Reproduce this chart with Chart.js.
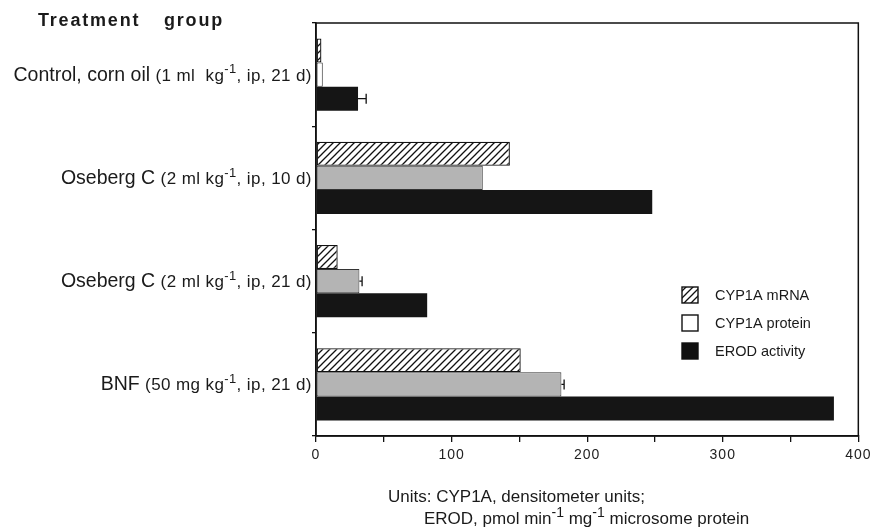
<!DOCTYPE html>
<html><head><meta charset="utf-8">
<script src="https://cdn.jsdelivr.net/npm/chart.js@4.4.1/dist/chart.umd.min.js"></script>
<style>html,body{margin:0;padding:0;background:#fff}canvas{display:block}</style>
</head><body>
<canvas id="c" width="875" height="532"></canvas>
<script>
// ---- data ----
const groupNames = ['Control, corn oil', 'Oseberg C', 'Oseberg C', 'BNF'];
const groupDoses = ['(1 ml  kg^-1, ip, 21 d)', '(2 ml kg^-1, ip, 10 d)', '(2 ml kg^-1, ip, 21 d)', '(50 mg kg^-1, ip, 21 d)'];
const seriesNames = ['CYP1A mRNA', 'CYP1A protein', 'EROD activity'];
const mrnaValues = [4, 143, 16, 151];
const proteinValues = [5, 123, 32, 181];
const erodValues = [31, 248, 82, 382];
const mrnaErrors = [0, 0, 0, 0];
const proteinErrors = [0, 0, 2, 2];
const erodErrors = [6, 0, 0, 0];
const xTickValues = [0, 100, 200, 300, 400];
const titleWords = ['Treatment', 'group'];
const unitsLines = ['Units: CYP1A, densitometer units;', 'EROD, pmol min^-1 mg^-1 microsome protein'];

// ---- hatch pattern ----
function makeHatch() {
  const s = 7;
  const pc = document.createElement('canvas');
  pc.width = s; pc.height = s;
  const p = pc.getContext('2d');
  p.fillStyle = '#fff'; p.fillRect(0, 0, s, s);
  p.strokeStyle = '#111'; p.lineWidth = 1.3;
  p.beginPath();
  p.moveTo(-1, s + 1); p.lineTo(s + 1, -1);
  p.moveTo(-1, 1); p.lineTo(1, -1);
  p.moveTo(s - 1, s + 1); p.lineTo(s + 1, s - 1);
  p.stroke();
  return document.getElementById('c').getContext('2d').createPattern(pc, 'repeat');
}
const hatch = makeHatch();
const FONT = '"Liberation Sans", Arial, Helvetica, sans-serif';

// draw text with ^-1 superscripts; returns width
function drawRich(ctx, text, x, y, size, opts) {
  opts = opts || {};
  const ls = opts.ls || 0, supScale = opts.sup || 0.72;
  const parts = text.split(/(\^-1)/);
  ctx.save();
  ctx.translate(x, y);
  ctx.letterSpacing = ls + 'px';
  let cx = 0;
  for (const part of parts) {
    if (part === '^-1') {
      ctx.font = Math.round(size * supScale) + 'px ' + FONT;
      if (!opts.measure) ctx.fillText('-1', cx, -size * 0.42);
      cx += ctx.measureText('-1').width;
    } else {
      ctx.font = size + 'px ' + FONT;
      if (!opts.measure) ctx.fillText(part, cx, 0);
      cx += ctx.measureText(part).width;
    }
  }
  ctx.restore();
  return cx;
}

const errorsBySeries = [mrnaErrors, proteinErrors, erodErrors];

const decor = {
  id: 'decor',
  beforeDraw(chart) { chart.ctx.letterSpacing = '1px'; },
  afterDatasetsDraw(chart) {
    const ctx = chart.ctx;
    const xs = chart.scales.x;
    ctx.save();
    ctx.strokeStyle = '#111'; ctx.lineWidth = 1.3;
    chart.data.datasets.forEach((ds, di) => {
      const meta = chart.getDatasetMeta(di);
      meta.data.forEach((bar, i) => {
        const e = errorsBySeries[di][i];
        if (!e) return;
        const v = ds.data[i];
        const x0 = xs.getPixelForValue(v), x1 = xs.getPixelForValue(v + e);
        const h = 5;
        ctx.beginPath();
        ctx.moveTo(x0, bar.y); ctx.lineTo(x1, bar.y);
        ctx.moveTo(x1, bar.y - h); ctx.lineTo(x1, bar.y + h);
        ctx.stroke();
      });
    });
    ctx.restore();
  },
  afterDraw(chart) {
    const ctx = chart.ctx;
    const a = chart.chartArea;
    const ys = chart.scales.y;
    ctx.save();
    ctx.letterSpacing = '0px';
    // frame
    ctx.strokeStyle = '#111'; ctx.lineWidth = 1.5;
    ctx.strokeRect(a.left, a.top, a.right - a.left, a.bottom - a.top);
    ctx.fillStyle = '#1a1a1a';
    ctx.textBaseline = 'alphabetic';
    // title
    ctx.save();
    ctx.font = 'bold 18px ' + FONT;
    ctx.letterSpacing = '1.8px';
    ctx.fillText(titleWords[0], 38, 26);
    ctx.fillText(titleWords[1], 164, 26);
    ctx.restore();
    // category labels
    groupNames.forEach((name, i) => {
      const y = ys.getPixelForValue(i) + 6;
      const right = a.left - 5;
      const wDose = drawRich(ctx, groupDoses[i], 0, 0, 17, { measure: true, ls: 0.4 });
      const wName = drawRich(ctx, name + ' ', 0, 0, 19.5, { measure: true });
      const x0 = right - wDose - wName;
      drawRich(ctx, name + ' ', x0, y, 19.5);
      drawRich(ctx, groupDoses[i], x0 + wName, y, 17, { ls: 0.4, sup: 0.75 });
    });
    // legend
    const lx = 682, ly = [295, 323, 351];
    chart.data.datasets.forEach((ds, i) => {
      const cy = ly[i];
      ctx.fillStyle = i === 0 ? hatch : (i === 1 ? '#fff' : '#111');
      ctx.fillRect(lx, cy - 8, 16, 16);
      ctx.strokeStyle = '#111'; ctx.lineWidth = 1.4;
      ctx.strokeRect(lx, cy - 8, 16, 16);
      ctx.fillStyle = '#1a1a1a';
      drawRich(ctx, ds.label, lx + 33, cy + 5, 14.5);
    });
    // units note
    ctx.fillStyle = '#1a1a1a';
    drawRich(ctx, unitsLines[0], 388, 502, 17);
    drawRich(ctx, unitsLines[1], 424, 524, 17, { sup: 0.8 });
    ctx.restore();
  }
};

new Chart(document.getElementById('c'), {
  type: 'bar',
  data: {
    labels: groupNames.map((n, i) => n + ' ' + groupDoses[i].replace(/\^-1/g, '-1')),
    datasets: [
      { label: seriesNames[0], data: mrnaValues, backgroundColor: hatch, borderColor: '#111', borderWidth: 1.3, borderSkipped: false },
      { label: seriesNames[1], data: proteinValues, backgroundColor: ['#ffffff', '#b4b4b4', '#b4b4b4', '#b4b4b4'], borderColor: '#333', borderWidth: 1, borderSkipped: false },
      { label: seriesNames[2], data: erodValues, backgroundColor: '#151515', borderWidth: 0 }
    ]
  },
  options: {
    indexAxis: 'y',
    responsive: false,
    animation: false,
    devicePixelRatio: 1,
    layout: { padding: { top: 23, right: 16, left: 0, bottom: 0 } },
    datasets: { bar: { categoryPercentage: 0.7, barPercentage: 1.0 } },
    plugins: { legend: { display: false }, tooltip: { enabled: false } },
    scales: {
      x: {
        min: 0, max: 400,
        afterBuildTicks(s) { s.ticks = []; for (let v = 0; v <= 400; v += 50) s.ticks.push({ value: v }); },
        ticks: {
          autoSkip: false, maxRotation: 0,
          callback: v => xTickValues.includes(v) ? String(v) : '',
          color: '#222', padding: 5,
          font: { family: FONT, size: 14 }
        },
        grid: { drawOnChartArea: false, tickLength: 6, color: '#111', lineWidth: 1.3 },
        border: { color: '#111', width: 1.5 },
        afterFit(s) { s.height = 96; }
      },
      y: {
        ticks: { display: false },
        grid: { drawOnChartArea: false, tickLength: 4, color: '#111', lineWidth: 1.3, offset: true },
        border: { color: '#111', width: 1.5 },
        afterFit(s) { s.width = 316; }
      }
    }
  },
  plugins: [decor]
});
</script>
</body></html>
